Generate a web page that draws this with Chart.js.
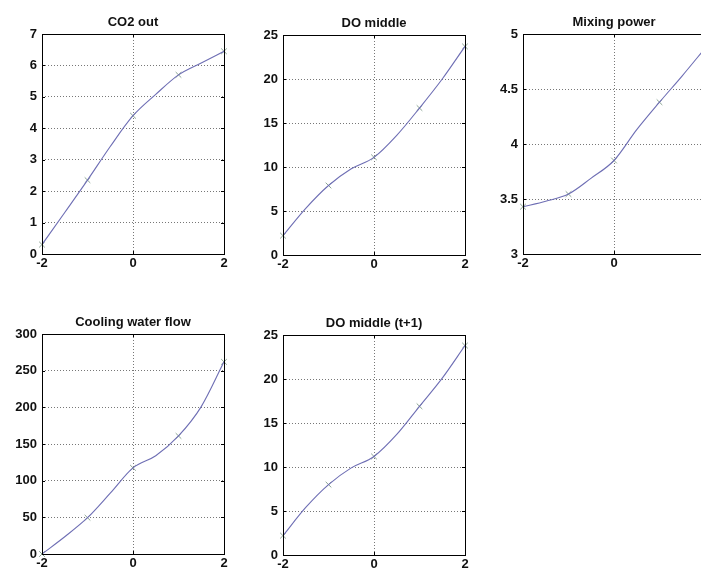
<!DOCTYPE html>
<html>
<head>
<meta charset="utf-8">
<script src="https://cdn.jsdelivr.net/npm/chart.js@4/dist/chart.umd.min.js"></script>
<style>
  html, body { margin: 0; padding: 0; background: #fff; }
  body { width: 701px; height: 571px; overflow: hidden; position: relative; }
  canvas { position: absolute; }
</style>
</head>
<body>
<canvas id="c1" width="236" height="274" style="left:0px;top:0px"></canvas>
<canvas id="c2" width="236" height="274" style="left:241px;top:1px"></canvas>
<canvas id="c3" width="236" height="274" style="left:481px;top:0px"></canvas>
<canvas id="c4" width="236" height="274" style="left:0px;top:300px"></canvas>
<canvas id="c5" width="236" height="274" style="left:241px;top:301px"></canvas>
<script>
// ---- data ----
const markerX = [-2, -1, 0, 1, 2];
const lineX = [-2, -1.5, -1, -0.5, 0, 0.5, 1, 1.5, 2];

const titles = ["CO2 out", "DO middle", "Mixing power", "Cooling water flow", "DO middle (t+1)"];

const co2Markers = [0.3, 2.35, 4.4, 5.7, 6.45];
const co2Line = [0.3, 1.32, 2.35, 3.42, 4.4, 5.08, 5.7, 6.08, 6.45];

const doMarkers = [2.2, 7.9, 11.1, 16.7, 23.7];
const doLine = [2.2, 5.3, 7.9, 9.8, 11.1, 13.6, 16.7, 20.0, 23.7];

const mixMarkers = [3.43, 3.545, 3.85, 4.38, 4.87];
const mixLine = [3.43, 3.48, 3.545, 3.69, 3.85, 4.13, 4.38, 4.62, 4.87];

const coolMarkers = [0, 49.5, 117.5, 161, 262];
const coolLine = [0, 23.5, 49.5, 83, 117.5, 134, 161, 201, 262];

const do1Markers = [2.2, 8.0, 11.2, 16.9, 23.8];
const do1Line = [2.2, 5.4, 8.0, 9.9, 11.2, 13.7, 16.9, 20.1, 23.8];

const yRanges = [[0, 7, 1], [0, 25, 5], [3, 5, 0.5], [0, 300, 50], [0, 25, 5]];
const xTicks = [-2, 0, 2];

// ---- drawing ----
const FONT = 'Liberation Sans, Arial, Helvetica, sans-serif';

const boxPlugin = {
  id: 'box',
  afterDraw(chart) {
    const { ctx, chartArea: a, scales } = chart;
    ctx.save();
    ctx.strokeStyle = '#000';
    ctx.lineWidth = 1;
    ctx.strokeRect(Math.round(a.left) + 0.5, Math.round(a.top) + 0.5,
                   Math.round(a.right - a.left), Math.round(a.bottom - a.top));
    ctx.beginPath();
    const tl = 3;
    scales.x.ticks.forEach(t => {
      const px = Math.round(scales.x.getPixelForValue(t.value)) + 0.5;
      ctx.moveTo(px, a.bottom); ctx.lineTo(px, a.bottom - tl);
      ctx.moveTo(px, a.top); ctx.lineTo(px, a.top + tl);
    });
    scales.y.ticks.forEach(t => {
      const py = Math.round(scales.y.getPixelForValue(t.value)) + 0.5;
      ctx.moveTo(a.left, py); ctx.lineTo(a.left + tl, py);
      ctx.moveTo(a.right, py); ctx.lineTo(a.right - tl, py);
    });
    ctx.stroke();
    ctx.restore();
  }
};

function pts(xs, ys) { return xs.map((x, i) => ({ x: x, y: ys[i] })); }

function makeChart(id, title, lineY, markY, yr) {
  new Chart(document.getElementById(id), {
    type: 'scatter',
    data: {
      datasets: [
        {
          data: pts(lineX, lineY),
          showLine: true,
          borderColor: '#6e6eb4',
          borderWidth: 1.1,
          pointRadius: 0,
          cubicInterpolationMode: 'monotone',
          fill: false
        },
        {
          data: pts(markerX, markY),
          showLine: false,
          clip: false,
          pointStyle: 'crossRot',
          pointRadius: 4,
          borderColor: '#8aa392',
          borderWidth: 1,
          backgroundColor: '#8aa392'
        }
      ]
    },
    options: {
      responsive: false,
      animation: false,
      devicePixelRatio: 1,
      layout: { padding: { top: 0, left: 0, right: 12, bottom: 0 } },
      plugins: {
        legend: { display: false },
        tooltip: { enabled: false },
        title: {
          display: true,
          fullSize: false,
          text: title,
          color: '#111',
          font: { family: FONT, size: 13, weight: 'bold', lineHeight: 1.2 },
          padding: { top: 14.6, bottom: 3.8 }
        }
      },
      scales: {
        x: {
          type: 'linear',
          min: -2, max: 2,
          afterBuildTicks(scale) { scale.ticks = xTicks.map(v => ({ value: v })); },
          afterFit(scale) { scale.height = 20; },
          grid: { color: '#777', drawTicks: false, lineWidth: 1 },
          border: { display: false, dash: [1, 2] },
          ticks: {
            color: '#111', padding: 2,
            font: { family: FONT, size: 13, weight: 'bold' },
            maxRotation: 0
          }
        },
        y: {
          min: yr[0], max: yr[1],
          afterBuildTicks(scale) {
            const t = [];
            for (let v = yr[0]; v <= yr[1] + 1e-9; v += yr[2]) t.push({ value: +v.toFixed(3) });
            scale.ticks = t;
          },
          afterFit(scale) { scale.width = 42; },
          grid: { color: '#777', drawTicks: false, lineWidth: 1 },
          border: { display: false, dash: [1, 2] },
          ticks: {
            color: '#111', padding: 5,
            font: { family: FONT, size: 13, weight: 'bold' },
            callback: v => String(v)
          }
        }
      }
    },
    plugins: [boxPlugin]
  });
}

makeChart('c1', titles[0], co2Line, co2Markers, yRanges[0]);
makeChart('c2', titles[1], doLine, doMarkers, yRanges[1]);
makeChart('c3', titles[2], mixLine, mixMarkers, yRanges[2]);
makeChart('c4', titles[3], coolLine, coolMarkers, yRanges[3]);
makeChart('c5', titles[4], do1Line, do1Markers, yRanges[4]);
</script>
</body>
</html>
